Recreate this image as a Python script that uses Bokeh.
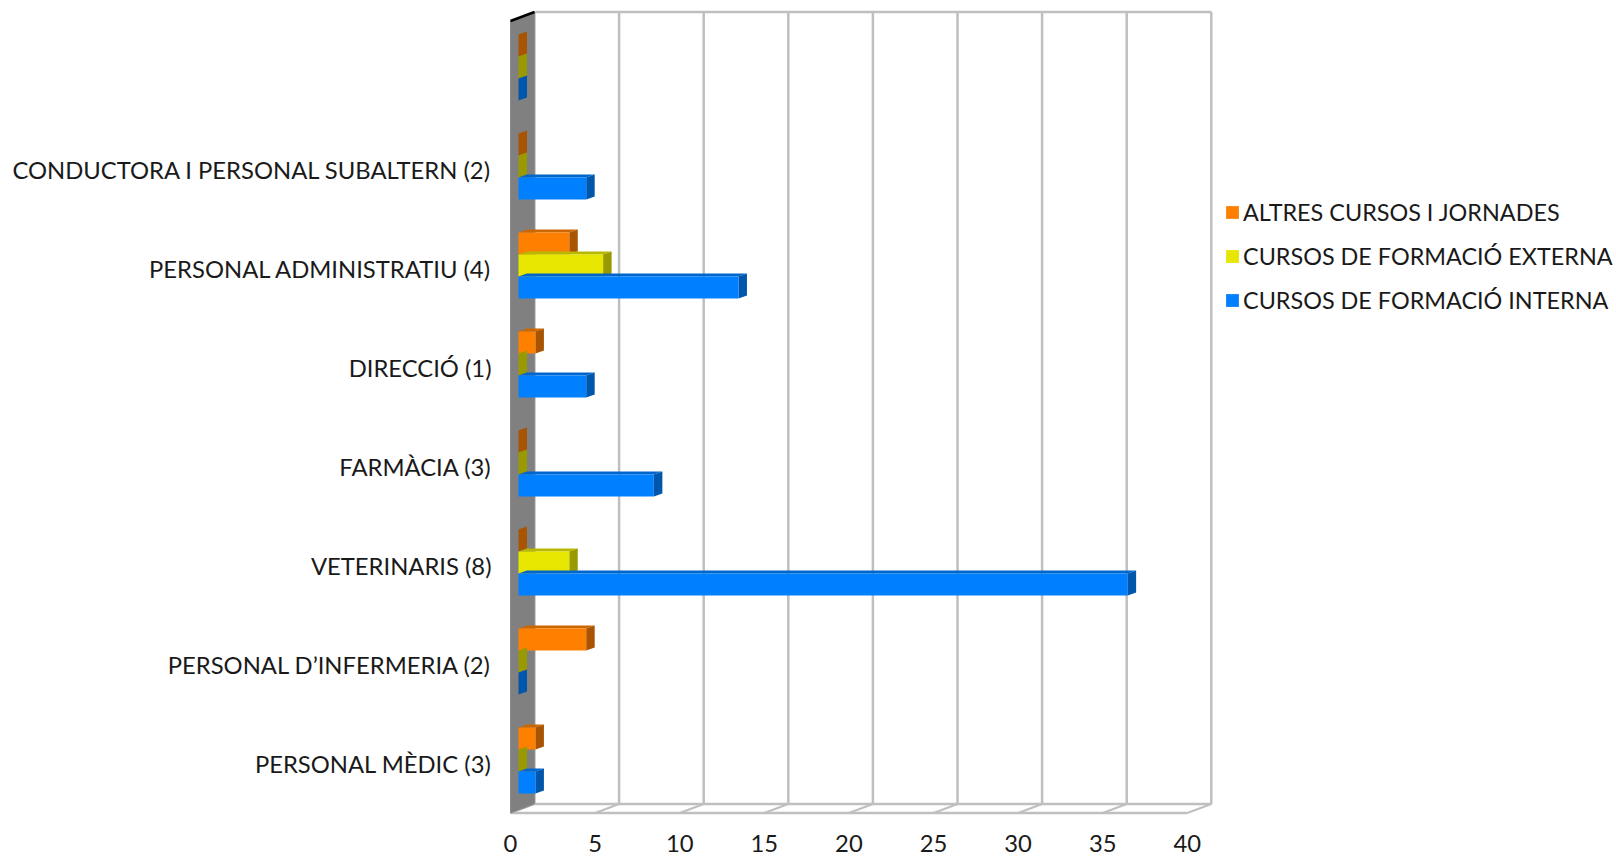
from bokeh.plotting import figure
from bokeh.models import FixedTicker, Legend, LegendItem
from bokeh.embed import file_html
from bokeh.resources import INLINE

categories = ["PERSONAL MÈDIC (3)", "PERSONAL D’INFERMERIA (2)", "VETERINARIS (8)", "FARMÀCIA (3)",
              "DIRECCIÓ (1)", "PERSONAL ADMINISTRATIU (4)", "CONDUCTORA I PERSONAL SUBALTERN (2)", ""]
interna = [1, 0, 36, 8, 4, 13, 4, 0]
externa = [0, 0, 3, 0, 0, 5, 0, 0]
altres = [1, 4, 0, 0, 1, 3, 0, 0]
x_ticks = [0, 5, 10, 15, 20, 25, 30, 35, 40]
FONT = "Lato"
FS = "23.8px"

W, H = 1616, 856
PX_X = 16.92   # px per value unit
PX_Y = 99.0    # px per category
X0, Y0 = 510, 812.5  # page px of the origin on the front plane
L, R, T, B = 499, 1616, 4, 820  # page px of the frame

p = figure(width=W, height=H, output_backend="svg", toolbar_location=None,
           x_range=((L - X0) / PX_X, (R - X0) / PX_X), y_range=((Y0 - B) / PX_Y, (Y0 - T) / PX_Y),
           min_border_left=L, min_border_right=W - R, min_border_top=T, min_border_bottom=H - B)
p.outline_line_color = None
p.grid.visible = False
p.background_fill_color = "white"

n = len(categories)
xmax = x_ticks[-1]
wall_dx, wall_dy = 24 / PX_X, 9 / PX_Y
bar_dx, bar_dy = 8.5 / PX_X, 3 / PX_Y
inset_x, inset_y = 8 / PX_X, 3 / PX_Y
GRID = "#bfbfbf"

# back wall grid, floor
p.segment([t + wall_dx for t in x_ticks], [wall_dy] * len(x_ticks), [t + wall_dx for t in x_ticks],
          [n + wall_dy] * len(x_ticks), line_color=GRID, line_width=2.5)
p.segment([t for t in x_ticks], [0] * len(x_ticks), [t + wall_dx for t in x_ticks], [wall_dy] * len(x_ticks),
          line_color=GRID, line_width=2)
p.segment([0, wall_dx, wall_dx], [0, wall_dy, n + wall_dy], [xmax, xmax + wall_dx, xmax + wall_dx],
          [0, wall_dy, n + wall_dy], line_color=GRID, line_width=2.5)
# left wall
p.patch([0, wall_dx, wall_dx, 0], [0, wall_dy, n + wall_dy, n], fill_color="#808080", line_color="#8c8c8c", line_width=1)
p.line([0, wall_dx], [n, n + wall_dy], line_color="black", line_width=2.5)

series = [("ALTRES CURSOS I JORNADES", altres, 2, "#ff8000", "#a85400", "#cc6600"),
          ("CURSOS DE FORMACIÓ EXTERNA", externa, 1, "#e6e600", "#999900", "#b8b800"),
          ("CURSOS DE FORMACIÓ INTERNA", interna, 0, "#0080ff", "#0056ab", "#0066cc")]
h = 0.2222
items = {}
for c in range(n - 1, -1, -1):
    for name, vals, k, front, side, top in series:
        v = vals[c]
        y0 = c + 0.5 - 1.5 * h + k * h + inset_y
        y1 = y0 + h
        x0 = inset_x
        x1 = x0 + v
        p.patch([x0, x0 + bar_dx, x1 + bar_dx, x1], [y1, y1 + bar_dy, y1 + bar_dy, y1], fill_color=top, line_color=None)
        p.patch([x1, x1 + bar_dx, x1 + bar_dx, x1], [y0, y0 + bar_dy, y1 + bar_dy, y1], fill_color=side, line_color=None)
        r = p.quad(left=[x0], right=[x1], bottom=[y0], top=[y1], fill_color=front, line_color=None)
        items[name] = r

legend = Legend(items=[LegendItem(label=name, renderers=[items[name]]) for name, *_ in series],
                location=(725, 506), orientation="vertical", border_line_color=None, background_fill_alpha=0,
                padding=0, margin=0, spacing=16, glyph_width=16, glyph_height=16, label_height=26, label_standoff=3,
                label_text_font=FONT, label_text_font_size="23.4px", label_text_color="#1a1a1a")
p.add_layout(legend, "center")

p.xaxis.ticker = FixedTicker(ticks=x_ticks)
p.xaxis.axis_line_color = None
p.xaxis.major_tick_line_color = None
p.xaxis.minor_tick_line_color = None
p.xaxis.major_label_standoff = 8
p.xaxis.major_label_text_font = FONT
p.xaxis.major_label_text_font_size = FS
p.xaxis.major_label_text_color = "#1a1a1a"

p.yaxis.ticker = FixedTicker(ticks=[c + 0.5 for c in range(n)])
p.yaxis.major_label_overrides = {c + 0.5: categories[c] for c in range(n)}
p.yaxis.axis_line_color = None
p.yaxis.major_tick_line_color = None
p.yaxis.minor_tick_line_color = None
p.yaxis.major_label_standoff = 2
p.yaxis.major_label_text_font = FONT
p.yaxis.major_label_text_font_size = FS
p.yaxis.major_label_text_color = "#1a1a1a"

open("out.html", "w").write(file_html(p, INLINE))
